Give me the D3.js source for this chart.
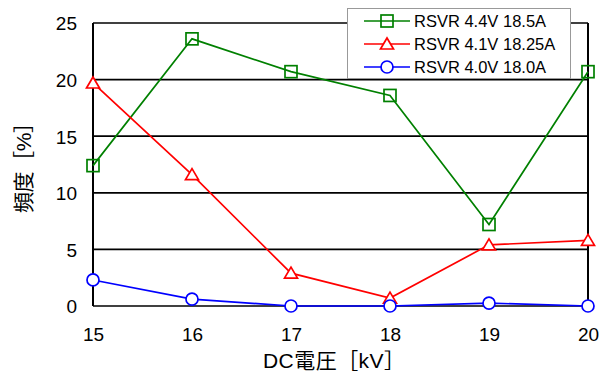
<!DOCTYPE html>
<html>
<head>
<meta charset="utf-8">
<script src="https://cdn.jsdelivr.net/npm/d3@7"></script>
<style>
  html, body { margin: 0; padding: 0; background: #fff; }
  svg { display: block; }
  text { font-family: "Liberation Sans", Arial, "Noto Sans CJK JP", sans-serif; fill: #000; }
</style>
</head>
<body>
<svg id="chart" width="613" height="371"></svg>
<script>
// DC voltage categories [kV]
const voltages = [15, 16, 17, 18, 19, 20];
const yTicks = [0, 5, 10, 15, 20, 25];

// Frequency [%] per setting
const seriesNames = ["RSVR 4.4V 18.5A", "RSVR 4.1V 18.25A", "RSVR 4.0V 18.0A"];
const rsvr44 = [12.4, 23.6, 20.7, 18.6, 7.2, 20.7];
const rsvr41 = [19.7, 11.6, 2.9, 0.7, 5.4, 5.8];
const rsvr40 = [2.3, 0.6, 0.0, 0.0, 0.25, 0.0];

const colors = ["#008000", "#ff0000", "#0000ff"];
const markers = ["square", "triangle", "circle"];
const seriesValues = [rsvr44, rsvr41, rsvr40];

const svg = d3.select("#chart");
const margin = { left: 93, right: 25, top: 23, bottom: 65 };
const W = 613, H = 371;

const x = d3.scaleLinear().domain([15, 20]).range([margin.left, W - margin.right]);
const y = d3.scaleLinear().domain([0, 25]).range([H - margin.bottom, margin.top]);

// horizontal grid lines
svg.append("g")
  .selectAll("line")
  .data(yTicks)
  .join("line")
  .attr("x1", x(15)).attr("x2", x(20))
  .attr("y1", d => y(d)).attr("y2", d => y(d))
  .attr("stroke", "#000").attr("stroke-width", 1.7);

// left and right frame
svg.append("line").attr("x1", x(15)).attr("x2", x(15)).attr("y1", y(0)).attr("y2", y(25))
  .attr("stroke", "#000").attr("stroke-width", 2);
svg.append("line").attr("x1", x(20)).attr("x2", x(20)).attr("y1", y(0)).attr("y2", y(25))
  .attr("stroke", "#000").attr("stroke-width", 2);

// y axis labels
const yAxis = d3.axisLeft(y).tickValues(yTicks).tickSize(0).tickPadding(16);
const gy = svg.append("g").attr("transform", `translate(${x(15)},0)`).call(yAxis);
gy.select(".domain").remove();
gy.selectAll("text").attr("font-size", 19).attr("dy", "0.36em")
  .style("font-family", "'Liberation Sans', Arial, sans-serif");

// x axis labels
const xAxis = d3.axisBottom(x).tickValues(voltages).tickSize(0).tickPadding(22).tickFormat(d3.format("d"));
const gx = svg.append("g").attr("transform", `translate(0,${y(0)})`).call(xAxis);
gx.select(".domain").remove();
gx.selectAll("text").attr("font-size", 19)
  .style("font-family", "'Liberation Sans', Arial, sans-serif");

// axis titles
svg.append("text")
  .attr("x", 263).attr("y", 368)
  .attr("font-size", 21)
  .attr("textLength", 142).attr("lengthAdjust", "spacing")
  .text("DC電圧［kV］");
svg.append("text")
  .attr("transform", `translate(31,213) rotate(-90)`)
  .attr("font-size", 21)
  .attr("textLength", 101).attr("lengthAdjust", "spacing")
  .text("頻度［%］");

function drawMarker(g, type, color, cx, cy) {
  if (type === "square") {
    g.append("rect").attr("x", cx - 6).attr("y", cy - 6).attr("width", 12).attr("height", 12)
      .attr("fill", "none").attr("stroke", color).attr("stroke-width", 1.7);
  } else if (type === "triangle") {
    g.append("path")
      .attr("d", `M${cx},${cy - 6}L${cx + 6.5},${cy + 5}L${cx - 6.5},${cy + 5}Z`)
      .attr("fill", "#fff").attr("stroke", color).attr("stroke-width", 1.7);
  } else {
    g.append("circle").attr("cx", cx).attr("cy", cy).attr("r", 6)
      .attr("fill", "#fff").attr("stroke", color).attr("stroke-width", 1.7);
  }
}

const line = d3.line().x((d, i) => x(voltages[i])).y(d => y(d));

seriesValues.forEach((vals, s) => {
  const g = svg.append("g");
  g.append("path").datum(vals).attr("d", line)
    .attr("fill", "none").attr("stroke", colors[s]).attr("stroke-width", 1.7);
  vals.forEach((v, i) => drawMarker(g, markers[s], colors[s], x(voltages[i]), y(v)));
});

// legend
const lg = svg.append("g");
lg.append("rect").attr("x", 347.5).attr("y", 8.5).attr("width", 223).attr("height", 70)
  .attr("fill", "#fff").attr("stroke", "#999").attr("stroke-width", 1);
seriesNames.forEach((name, s) => {
  const ly = 21 + s * 23;
  lg.append("line").attr("x1", 364).attr("x2", 410).attr("y1", ly).attr("y2", ly)
    .attr("stroke", colors[s]).attr("stroke-width", 1.7);
  drawMarker(lg, markers[s], colors[s], 387, ly);
  lg.append("text").attr("x", 414).attr("y", ly).attr("dy", "0.36em")
    .attr("font-size", 16.5).text(name);
});
</script>
</body>
</html>
